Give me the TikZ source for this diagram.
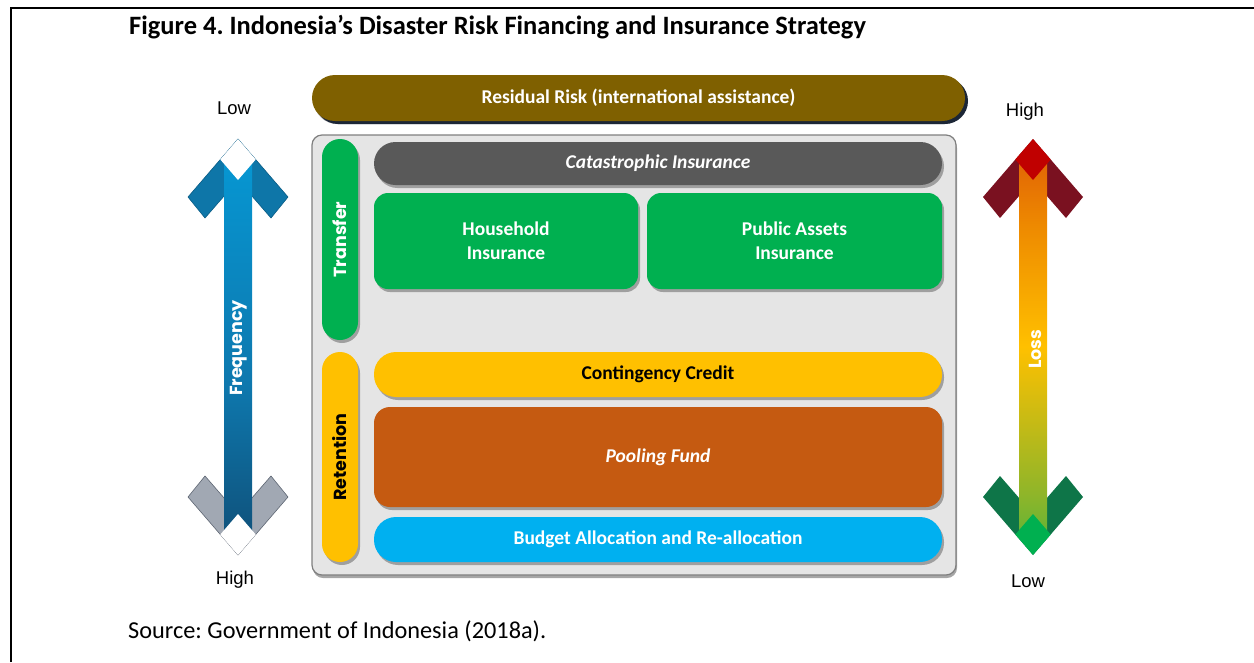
\documentclass[tikz,border=0pt]{standalone}
\usepackage{fontspec}
\setmainfont{Carlito}
\newfontfamily\axisfont{Liberation Sans}
\newfontfamily\sidefont{Poppins}
\usetikzlibrary{positioning,shadows}

\definecolor{residual}{HTML}{7F6000}
\definecolor{residualedge}{HTML}{1C2636}
\definecolor{catgray}{HTML}{595959}
\definecolor{insgreen}{HTML}{00B050}
\definecolor{credityellow}{HTML}{FFC000}
\definecolor{poolorange}{HTML}{C55A11}
\definecolor{budgetblue}{HTML}{00B0F0}
\definecolor{panelfill}{HTML}{E5E5E5}
\definecolor{paneledge}{HTML}{7F7F7F}
\definecolor{freqtop}{HTML}{00B0F0}
\definecolor{freqmid}{HTML}{0E78AE}
\definecolor{freqbottom}{HTML}{10243E}
\definecolor{freqwing}{HTML}{0E76A8}
\definecolor{freqwingedge}{HTML}{0A5C85}
\definecolor{freqbase}{HTML}{A1A8B3}
\definecolor{freqbaseedge}{HTML}{5E6673}
\definecolor{lossred}{HTML}{C00000}
\definecolor{lossredorange}{HTML}{D5400A}
\definecolor{lossorange}{HTML}{EE8A00}
\definecolor{lossyellow}{HTML}{FFC000}
\definecolor{lossolive}{HTML}{8DB52A}
\definecolor{lossgreen}{HTML}{00B050}
\definecolor{losswingtop}{HTML}{7A1120}
\definecolor{losswingbottom}{HTML}{0E7548}

\pgfdeclareverticalshading{freqshade}{100bp}{color(0bp)=(freqbottom); color(45bp)=(freqmid); color(100bp)=(freqtop)}
\pgfdeclareverticalshading{lossshade}{100bp}{color(0bp)=(lossgreen); color(12bp)=(lossgreen); color(30bp)=(lossolive); color(50bp)=(lossyellow); color(66bp)=(lossorange); color(84bp)=(lossredorange); color(100bp)=(lossred)}

\newcommand{\boxtext}{\fontsize{19.5}{24}\selectfont\bfseries}
\newcommand{\sidetext}{\sidefont\fontsize{17.5}{19}\selectfont\bfseries}

\begin{document}
\frenchspacing
\begin{tikzpicture}[x=1pt,y=-1pt,
  box/.style={inner sep=0pt, align=center, text=white, font=\boxtext,
    drop shadow={shadow xshift=2pt, shadow yshift=-3pt, fill=black, opacity=0.3}},
  pill/.style={box, font=\sidetext},
  endlabel/.style={font=\axisfont\fontsize{18.5}{20}\selectfont}]
\useasboundingbox (0,0) rectangle (1254,662);

% Outer frame
\draw[line width=2pt] (11,662) -- (11,8) -- (1254,8);

% Title and source
\node[anchor=west, inner sep=0pt, font=\fontsize{26.5}{30}\selectfont\bfseries] (title) at (129,27)
  {Figure 4. Indonesia’s Disaster Risk Financing and Insurance Strategy};
\node[anchor=west, inner sep=0pt, font=\fontsize{24.3}{28}\selectfont] (source) at (128,631)
  {Source: Government of Indonesia (2018a).};

% Residual risk bar
\node[box, fill=residual, minimum width=653pt, minimum height=46pt, rounded corners=23pt,
  drop shadow={shadow xshift=3pt, shadow yshift=-3pt, fill=residualedge, opacity=1}]
  (resid) at (638.5,98) {Residual Risk (international assistance)};

% Grey panel
\node[fill=panelfill, draw=paneledge, line width=1.2pt, rounded corners=10pt, inner sep=0pt,
  minimum width=644pt, minimum height=440pt,
  drop shadow={shadow xshift=1pt, shadow yshift=-3pt, fill=black, opacity=0.35}]
  (panel) at (634,355) {};

% Side labels
\node[pill, fill=insgreen, rotate=90, minimum width=201pt, minimum height=36pt,
  rounded corners=18pt] (transfer) at (340,239.5) {Transfer};
\node[pill, fill=credityellow, text=black, rotate=90, minimum width=210pt, minimum height=36pt,
  rounded corners=18pt] (retention) at (340,457) {Retention};

% Transfer layers
\node[box, fill=catgray, minimum width=568pt, minimum height=43pt, rounded corners=21.5pt,
  font=\boxtext\itshape] (cat) at (658,163.5) {Catastrophic Insurance};
\node[box, fill=insgreen, minimum width=264pt, minimum height=96pt, rounded corners=14pt]
  (house) at (506,241) {Household\\Insurance};
\node[box, fill=insgreen, minimum width=295pt, minimum height=96pt, rounded corners=14pt]
  (public) at (794.5,241) {Public Assets\\Insurance};

% Retention layers
\node[box, fill=credityellow, text=black, minimum width=568pt, minimum height=45pt,
  rounded corners=22pt] (credit) at (658,374.5) {Contingency Credit};
\node[box, fill=poolorange, minimum width=568pt, minimum height=100pt, rounded corners=16pt,
  font=\boxtext\itshape] (pool) at (658,457) {Pooling Fund};
\node[box, fill=budgetblue, minimum width=568pt, minimum height=45pt, rounded corners=22pt]
  (budget) at (658,539.5) {Budget Allocation and Re-allocation};

% Frequency arrow
\filldraw[fill=freqwing, draw=freqwingedge, line width=0.6pt, shift={(238,139)}]
  (0,0) -- (50,58) -- (33,79) -- (0,41) -- (-33,79) -- (-50,58) -- cycle;
\filldraw[fill=freqbase, draw=freqbaseedge, line width=0.6pt, shift={(238,555)}]
  (0,0) -- (50,-58) -- (33,-79) -- (0,-41) -- (-33,-79) -- (-50,-58) -- cycle;
\shade[shading=freqshade] (224,159) rectangle (252,534);
\fill[white, shift={(238,139)}] (0,0) -- (17.7,20.5) -- (0,41) -- (-17.7,20.5) -- cycle;
\fill[white, shift={(238,555)}] (0,0) -- (17.7,-20.5) -- (0,-41) -- (-17.7,-20.5) -- cycle;
\node[font=\sidetext, text=white, rotate=90] (freq) at (239,348) {Frequency};
\node[endlabel] (freqlow) at (234,108) {Low};
\node[endlabel] (freqhigh) at (235,580) {High};

% Loss arrow
\fill[losswingtop, shift={(1033,139)}]
  (0,0) -- (50,58) -- (33,79) -- (0,41) -- (-33,79) -- (-50,58) -- cycle;
\fill[losswingbottom, shift={(1033,555)}]
  (0,0) -- (50,-58) -- (33,-79) -- (0,-41) -- (-33,-79) -- (-50,-58) -- cycle;
\shade[shading=lossshade] (1019,159) rectangle (1047,534);
\fill[lossred, shift={(1033,139)}] (0,0) -- (17.7,20.5) -- (0,41) -- (-17.7,20.5) -- cycle;
\fill[lossgreen, shift={(1033,555)}] (0,0) -- (17.7,-20.5) -- (0,-41) -- (-17.7,-20.5) -- cycle;
\node[font=\sidetext, text=white, rotate=90] (loss) at (1035,349) {Loss};
\node[endlabel] (losshigh) at (1025,112) {High};
\node[endlabel] (losslow) at (1028,581) {Low};
\end{tikzpicture}
\end{document}
